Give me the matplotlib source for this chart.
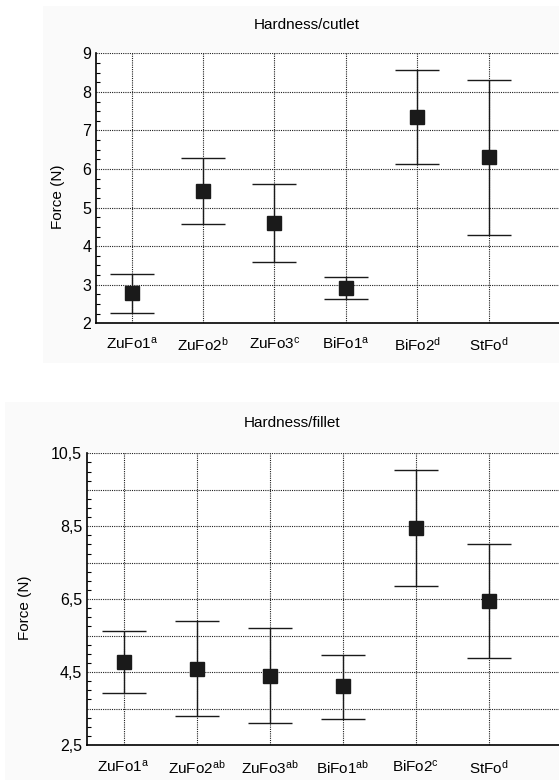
import matplotlib
matplotlib.use("Agg")
import matplotlib.pyplot as plt
from matplotlib.patches import Rectangle
from matplotlib.ticker import MultipleLocator

plt.rcParams['font.family'] = ['Liberation Sans', 'DejaVu Sans']
plt.rcParams['mathtext.default'] = 'regular'

# cutlet
cut_labels = ['ZuFo1$^{a}$', 'ZuFo2$^{b}$', 'ZuFo3$^{c}$', 'BiFo1$^{a}$', 'BiFo2$^{d}$', 'StFo$^{d}$']
cut_mean = [2.79, 5.43, 4.60, 2.91, 7.35, 6.31]
cut_low = [2.28, 4.57, 3.59, 2.63, 6.13, 4.28]
cut_high = [3.27, 6.28, 5.60, 3.21, 8.58, 8.30]

# fillet
fil_labels = ['ZuFo1$^{a}$', 'ZuFo2$^{ab}$', 'ZuFo3$^{ab}$', 'BiFo1$^{ab}$', 'BiFo2$^{c}$', 'StFo$^{d}$']
fil_mean = [4.77, 4.58, 4.40, 4.11, 8.44, 6.44]
fil_low = [3.92, 3.29, 3.09, 3.22, 6.85, 4.89]
fil_high = [5.63, 5.90, 5.71, 4.96, 10.04, 8.00]

W, H = 559, 780
fig = plt.figure(figsize=(W/100, H/100), dpi=100)

# light panels behind each chart
fig.patches.append(Rectangle((43/W, 1-363/H), 1, 357/H, transform=fig.transFigure,
                             facecolor='#fafafa', edgecolor='none', zorder=-5))
fig.patches.append(Rectangle((5/W, 0), 1, 1-402/H, transform=fig.transFigure,
                             facecolor='#fafafa', edgecolor='none', zorder=-5))


def draw(ax, labels, mean, low, high, ylo, yhi, xpad):
    x = list(range(len(labels)))
    err = [[m - l for m, l in zip(mean, low)], [h - m for m, h in zip(mean, high)]]
    ax.errorbar(x, mean, yerr=err, fmt='s', color='#1a1a1a', ms=10, lw=1,
                capsize=16, capthick=1, zorder=3)
    ax.set_xlim(-0.5, 6.0)
    ax.set_ylim(ylo, yhi)
    ax.set_xticks(x)
    ax.set_xticklabels(labels)
    ax.grid(True, which='major', linestyle=(0, (1, 1)), color='#1e1e1e', lw=0.8)
    ax.set_axisbelow(True)
    ax.spines['top'].set_visible(False)
    ax.spines['right'].set_visible(False)
    ax.spines['left'].set_linewidth(1.2)
    ax.spines['bottom'].set_linewidth(1.2)
    ax.yaxis.set_minor_locator(MultipleLocator(0.25))
    ax.tick_params(axis='both', which='major', length=0, labelsize=11.5)
    ax.tick_params(axis='x', labelsize=11, pad=xpad)
    ax.tick_params(axis='y', which='minor', direction='in', length=3, width=0.8)
    ax.patch.set_facecolor('white')


ax1 = fig.add_axes([96/W, 1-323.3/H, 464/W, 270/H])
draw(ax1, cut_labels, cut_mean, cut_low, cut_high, 2, 9, 9)
ax1.set_yticks(range(2, 10))

ax2 = fig.add_axes([87/W, 1-745/H, 474.5/W, 291.7/H])
draw(ax2, fil_labels, fil_mean, fil_low, fil_high, 2.5, 10.5, 10)
yt = [2.5 + i for i in range(9)]
ax2.set_yticks(yt)
ax2.set_yticklabels([('%.1f' % v).replace('.', ',') if i % 2 == 0 else '' for i, v in enumerate(yt)])

fig.text(307/W, 1-25/H, 'Hardness/cutlet', ha='center', va='center', fontsize=11)
fig.text(292/W, 1-423/H, 'Hardness/fillet', ha='center', va='center', fontsize=11)
fig.text(58/W, 1-197/H, 'Force (N)', ha='center', va='center', rotation=90, fontsize=11)
fig.text(25/W, 1-608/H, 'Force (N)', ha='center', va='center', rotation=90, fontsize=11)

fig.savefig('out.png', dpi=100)
